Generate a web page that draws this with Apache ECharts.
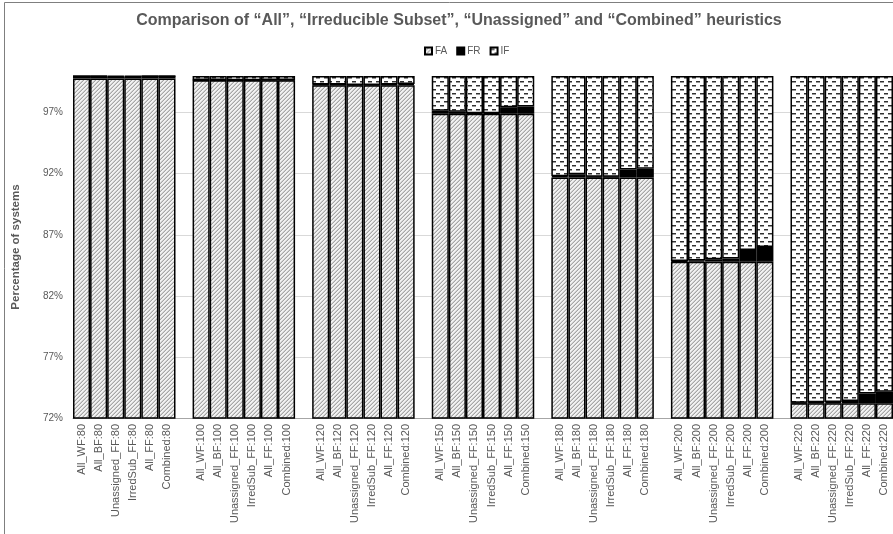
<!DOCTYPE html>
<html>
<head>
<meta charset="utf-8">
<script src="https://cdn.jsdelivr.net/npm/echarts@6/dist/echarts.min.js"></script>
<style>
html,body{margin:0;padding:0;background:#fff;}
#chart{width:893px;height:534px;}
</style>
</head>
<body>
<div id="chart"></div>
<script>
// ---- data ----
var sizes = ['80', '100', '120', '150', '180', '200', '220'];
var heuristics = ['All_WF', 'All_BF', 'Unassigned_FF', 'IrredSub_FF', 'All_FF', 'Combined'];
var yTicks = [72, 77, 82, 87, 92, 97];

var FA = [
  [99.8, 99.8, 99.8, 99.8, 99.8, 99.8],
  [99.65, 99.65, 99.65, 99.65, 99.65, 99.65],
  [99.25, 99.25, 99.25, 99.25, 99.25, 99.25],
  [96.9, 96.9, 96.9, 96.9, 96.9, 96.9],
  [91.7, 91.7, 91.7, 91.7, 91.7, 91.7],
  [84.8, 84.8, 84.8, 84.8, 84.8, 84.8],
  [73.2, 73.2, 73.2, 73.2, 73.2, 73.2]
];
var FR = [
  [0.2, 0.2, 0.15, 0.15, 0.2, 0.2],
  [0.02, 0.02, 0.0, 0.0, 0.03, 0.03],
  [0.05, 0.05, 0.02, 0.02, 0.05, 0.1],
  [0.25, 0.18, 0.05, 0.05, 0.55, 0.6],
  [0.1, 0.25, 0.05, 0.05, 0.65, 0.7],
  [0.05, 0.1, 0.2, 0.25, 0.95, 1.2],
  [0.05, 0.08, 0.1, 0.2, 0.8, 0.95]
];
var IF = [
  [0.0, 0.0, 0.05, 0.05, 0.0, 0.0],
  [0.33, 0.33, 0.35, 0.35, 0.32, 0.32],
  [0.7, 0.7, 0.73, 0.73, 0.7, 0.65],
  [2.85, 2.92, 3.05, 3.05, 2.55, 2.5],
  [8.2, 8.05, 8.25, 8.25, 7.65, 7.6],
  [15.15, 15.1, 15.0, 14.95, 14.25, 14.0],
  [26.75, 26.72, 26.7, 26.6, 26.0, 25.85]
];

// ---- build categories with a blank slot between groups ----
var categories = [], faData = [], frData = [], ifData = [];
sizes.forEach(function (s, g) {
  heuristics.forEach(function (h, i) {
    categories.push(h + ':' + s);
    faData.push(FA[g][i]); frData.push(FR[g][i]); ifData.push(IF[g][i]);
  });
  if (g < sizes.length - 1) {
    categories.push('');
    faData.push('-'); frData.push('-'); ifData.push('-');
  }
});

// ---- patterns ----
function makeTile(w, h, draw) {
  var c = document.createElement('canvas');
  c.width = w; c.height = h;
  var ctx = c.getContext('2d');
  draw(ctx);
  return c;
}
var faTile = makeTile(4, 4, function (ctx) {
  ctx.fillStyle = '#f2f2f2'; ctx.fillRect(0, 0, 4, 4);
  for (var i = 0; i < 4; i++) {
    ctx.fillStyle = '#a6a6a6'; ctx.fillRect(3 - i, i, 1, 1);
    ctx.fillStyle = '#cfcfcf'; ctx.fillRect((6 - i) % 4, i, 1, 1);
  }
});
var ifTile = makeTile(8, 8, function (ctx) {
  ctx.fillStyle = '#ffffff'; ctx.fillRect(0, 0, 8, 8);
  ctx.fillStyle = '#303030';
  ctx.fillRect(0, 1, 4, 1);
  ctx.fillRect(4, 5, 4, 1);
  ctx.fillStyle = '#9a9a9a';
  ctx.fillRect(0, 2, 4, 1);
  ctx.fillRect(4, 6, 4, 1);
});
var faColor = { image: faTile, repeat: 'repeat' };
var ifColor = { image: ifTile, repeat: 'repeat' };

var textGray = '#595959';
var font = 'Liberation Sans';

var chart = echarts.init(document.getElementById('chart'), null, { renderer: 'canvas' });

function barSeries(name, data, color) {
  return {
    name: name, type: 'bar', stack: 'all', data: data,
    barCategoryGap: '0%',
    itemStyle: { color: color, borderColor: '#000', borderWidth: 1.5 },
    emphasis: { disabled: true }
  };
}

chart.setOption({
  animation: false,
  textStyle: { fontFamily: font },
  graphic: [
    { type: 'rect', shape: { x: 4.5, y: 2.5, width: 1000, height: 1000 },
      style: { fill: 'none', stroke: '#7f7f7f', lineWidth: 1 }, silent: true },
    { type: 'text', x: 459, y: 21,
      style: { text: 'Comparison of \u201cAll\u201d, \u201cIrreducible Subset\u201d, \u201cUnassigned\u201d and \u201cCombined\u201d heuristics',
        fill: textGray, font: 'bold 16px "Liberation Sans"', textAlign: 'center', textVerticalAlign: 'middle' } }
  ],
  legend: {
    left: 419, top: 41,
    itemWidth: 7, itemHeight: 7, itemGap: 9,
    icon: 'rect',
    textStyle: { color: textGray, fontSize: 10, fontFamily: font, padding: [0, 0, 0, -2] },
    data: ['FA', 'FR', 'IF']
  },
  grid: { left: 73, top: 76, width: 823, height: 342, containLabel: false },
  xAxis: {
    type: 'category', data: categories,
    axisLine: { lineStyle: { color: '#a6a6a6', width: 1 } },
    axisTick: { show: false },
    axisLabel: { interval: 0, rotate: 90, color: textGray, fontSize: 11, fontFamily: font, margin: 6 }
  },
  yAxis: {
    type: 'value', min: 72, max: 100, interval: 5,
    name: 'Percentage of systems', nameLocation: 'middle', nameGap: 51,
    nameTextStyle: { color: textGray, fontSize: 11.5, fontWeight: 'bold', fontFamily: font },
    axisLine: { show: false }, axisTick: { show: false },
    axisLabel: { color: textGray, fontSize: 10, fontFamily: font, margin: 10, showMaxLabel: false,
      formatter: function (v) { return yTicks.indexOf(v) >= 0 ? v + '%' : ''; } },
    splitLine: { lineStyle: { color: ['#d9d9d9', '#d9d9d9', '#d9d9d9', '#d9d9d9', '#d9d9d9', '#d9d9d9', 'rgba(0,0,0,0)'], width: 1 } }
  },
  series: [
    barSeries('FA', faData, faColor),
    barSeries('FR', frData, '#000000'),
    barSeries('IF', ifData, ifColor)
  ]
});
</script>
</body>
</html>
